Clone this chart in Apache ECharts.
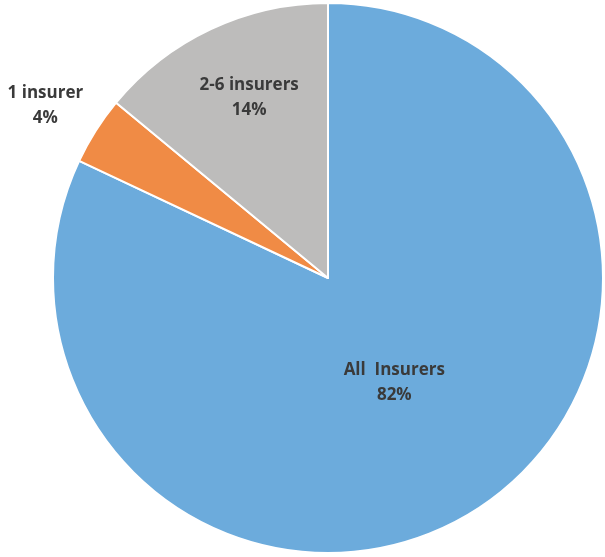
<!DOCTYPE html>
<html>
<head>
<meta charset="utf-8">
<script src="https://cdn.jsdelivr.net/npm/echarts@6/dist/echarts.min.js"></script>
<style>
html, body { margin: 0; padding: 0; background: #fff; }
#chart { width: 605px; height: 557px; }
</style>
</head>
<body>
<div id="chart"></div>
<script>
var names = ['All  Insurers', '1 insurer', '2-6 insurers']
var values = [82, 4, 14]
var colors = ['#6CABDC', '#F08B45', '#BDBCBB']
var labelOffsets = [[-9, -14], [-164, -97], [-19, -53]]

var data = names.map(function (n, i) {
    return {
        name: n,
        value: values[i],
        itemStyle: { color: colors[i] },
        label: { offset: labelOffsets[i] }
    }
})

var myChart = echarts.init(document.getElementById('chart'))
myChart.setOption({
    animation: false,
    series: [{
        type: 'pie',
        center: [328, 278],
        radius: [0, 275],
        startAngle: 90,
        clockwise: true,
        itemStyle: { borderColor: '#fff', borderWidth: 2 },
        label: {
            position: 'inside',
            formatter: '{b}\n{c}%',
            color: '#3A3A3A',
            fontFamily: 'Open Sans',
            fontWeight: 'bold',
            fontSize: 17,
            lineHeight: 25,
            align: 'center'
        },
        labelLine: { show: false },
        data: data
    }]
})
</script>
</body>
</html>
